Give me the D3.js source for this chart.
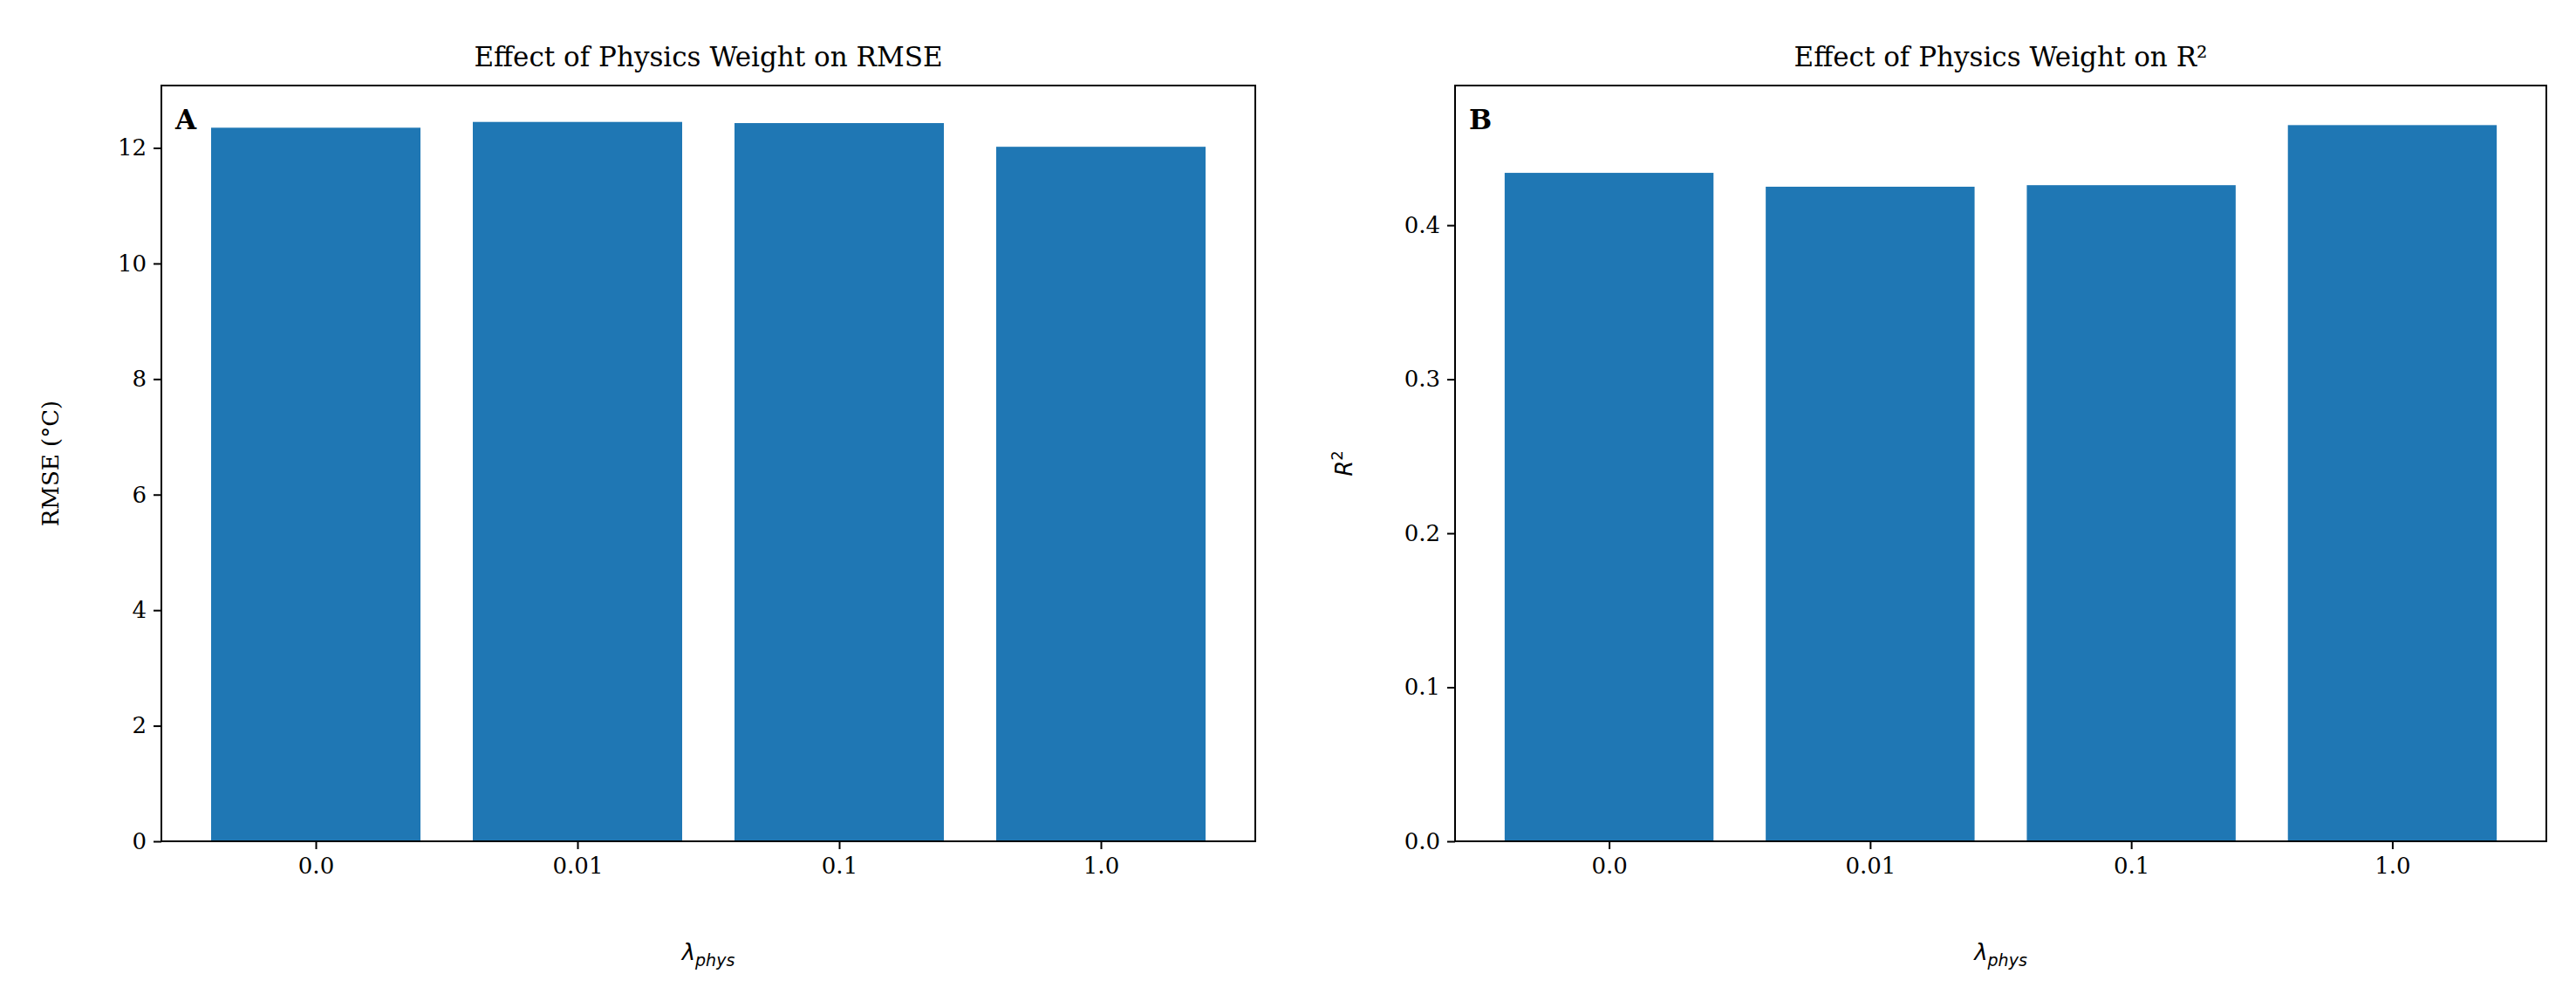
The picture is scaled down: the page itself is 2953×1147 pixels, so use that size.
<!DOCTYPE html>
<html><head><meta charset="utf-8">
<script src="https://cdn.jsdelivr.net/npm/d3@7"></script>
<style>body{margin:0;background:#fff}</style></head>
<body><svg id="c" width="2953" height="1147"></svg>
<script>
const categories = ["0.0","0.01","0.1","1.0"];
const rmseValues = [12.35, 12.45, 12.43, 12.02];
const r2Values = [0.434, 0.425, 0.426, 0.465];
const rmseTicks = [0,2,4,6,8,10,12];
const r2Ticks = [0.0,0.1,0.2,0.3,0.4];

const svg = d3.select("#c");
const font = "DejaVu Serif";
const plotTop = 98, plotBottom = 964;
function panel(x0, x1, vals, ymax, ticks, fmt, title, letter, ylab, ylabFn){
  const g = svg.append("g");
  const x = d3.scaleLinear().domain([-0.59, 3.59]).range([x0, x1]);
  const y = d3.scaleLinear().domain([0, ymax]).range([plotBottom, plotTop]);
  g.selectAll("rect.bar").data(vals).join("rect").attr("class","bar")
    .attr("x",(d,i)=>x(i-0.4)).attr("width",(d,i)=>x(i+0.4)-x(i-0.4))
    .attr("y",d=>y(d)).attr("height",d=>y(0)-y(d)).attr("fill","#1f77b4");
  const ax = g.append("g").attr("transform",`translate(0,${plotBottom})`)
    .call(d3.axisBottom(x).tickValues([0,1,2,3]).tickFormat(i=>categories[i]).tickSize(9).tickPadding(10));
  const ay = g.append("g").attr("transform",`translate(${x0},0)`)
    .call(d3.axisLeft(y).tickValues(ticks).tickFormat(fmt).tickSize(9).tickPadding(8));
  [ax,ay].forEach(a=>{a.selectAll("text").attr("font-family",font).attr("font-size",26).attr("fill","#000");
    a.selectAll("line").attr("stroke","#000").attr("stroke-width",2); a.select(".domain").remove();});
  g.append("rect").attr("x",x0).attr("y",plotTop).attr("width",x1-x0).attr("height",plotBottom-plotTop)
    .attr("fill","none").attr("stroke","#000").attr("stroke-width",2);
  g.append("text").attr("x",(x0+x1)/2).attr("y",plotTop-22).attr("text-anchor","middle")
    .attr("font-family",font).attr("font-size",31).text(title);
  g.append("text").attr("x",x0+16).attr("y",plotTop+50).attr("font-family",font).attr("font-weight","bold")
    .attr("font-size",31).text(letter);
  const xl = g.append("text").attr("x",(x0+x1)/2).attr("y",1100).attr("text-anchor","middle")
    .attr("font-family","DejaVu Sans").attr("font-size",26);
  xl.append("tspan").attr("font-style","italic").text("λ");
  xl.append("tspan").attr("font-style","italic").attr("font-size",19).attr("dy",7).text("phys");
  const yl = g.append("text").attr("transform",`translate(${x0-ylab.off},${(plotTop+plotBottom)/2}) rotate(-90)`)
    .attr("text-anchor","middle").attr("font-family",ylab.font).attr("font-size",26);
  ylabFn(yl);
}
panel(185, 1439, rmseValues, 13.08, rmseTicks, d3.format("d"),
  "Effect of Physics Weight on RMSE","A",{off:118,font:font}, t=>t.text("RMSE (°C)"));
panel(1668, 2919, r2Values, 0.4907, r2Ticks, d3.format(".1f"),
  "Effect of Physics Weight on R²","B",{off:118,font:"DejaVu Sans"}, t=>{
    t.append("tspan").attr("font-style","italic").text("R");
    t.append("tspan").attr("font-size",18).attr("dy",-11).text("2");});
</script></body></html>
